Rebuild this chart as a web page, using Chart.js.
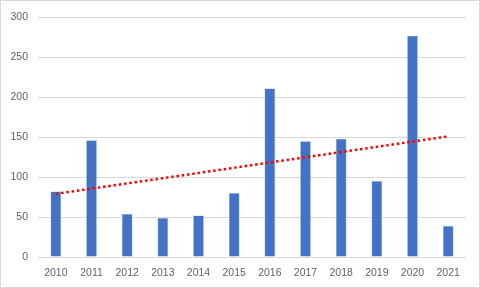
<!DOCTYPE html>
<html>
<head>
<meta charset="utf-8">
<script src="https://cdn.jsdelivr.net/npm/chart.js@4"></script>
<style>
  html, body { margin: 0; padding: 0; background: #ffffff; }
  #wrap { width: 480px; height: 288px; box-sizing: border-box; border: 1px solid #d9d9d9; background: #ffffff; }
</style>
</head>
<body>
<div id="wrap"><canvas id="myChart"></canvas></div>
<script>
const years = ['2010', '2011', '2012', '2013', '2014', '2015', '2016', '2017', '2018', '2019', '2020', '2021'];
const counts = [82, 146, 54, 49, 52, 80, 211, 145, 148, 95, 277, 39];
// trend line: only its two ends
const trend = [79, null, null, null, null, null, null, null, null, null, null, 151];
const yTicks = [0, 50, 100, 150, 200, 250, 300];

const myChartElement = document.getElementById('myChart');

let myDatasets = [
  {
    type: 'line',
    data: trend,
    spanGaps: true,
    borderColor: '#ff0000',
    borderWidth: 2.5,
    borderDash: [2.5, 2.8],
    pointRadius: 0,
    fill: false,
    order: 0
  },
  {
    type: 'bar',
    data: counts,
    backgroundColor: '#4472c4',
    borderColor: '#8faadc',
    borderWidth: 0.6,
    categoryPercentage: 1,
    barPercentage: 0.3,
    order: 1
  }
];

let tickFont = { family: 'Liberation Sans', size: 10.5 };

let myOptions = {
  maintainAspectRatio: false,
  responsive: true,
  animation: false,
  events: [],
  layout: { padding: { left: 0, top: 14, right: 13, bottom: 0 } },
  plugins: { legend: { display: false }, tooltip: { enabled: false } },
  scales: {
    x: {
      grid: { display: false, drawTicks: false },
      border: { display: false },
      ticks: { color: '#636363', font: tickFont, padding: 10, maxRotation: 0 },
      afterFit: (scale) => { scale.height = 30; }
    },
    y: {
      min: 0,
      max: 300,
      afterBuildTicks: (scale) => { scale.ticks = yTicks.map(v => ({ value: v })); },
      grid: { color: '#d9d9d9', lineWidth: 1, drawTicks: false },
      border: { display: false },
      ticks: { color: '#636363', font: tickFont, padding: 10 },
      afterFit: (scale) => { scale.width = 37; }
    }
  }
};

let myChart = new Chart(myChartElement, {
  data: {
    labels: years,
    datasets: myDatasets
  },
  options: myOptions
});
</script>
</body>
</html>
